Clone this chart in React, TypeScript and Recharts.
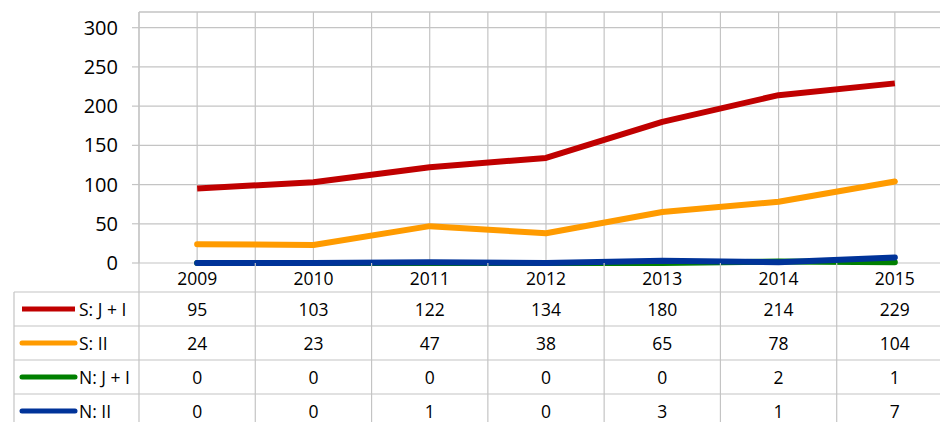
import { LineChart, Line, XAxis, YAxis, CartesianGrid, ReferenceLine } from "recharts";

const years = ["2009", "2010", "2011", "2012", "2013", "2014", "2015"];
const sJI = [95, 103, 122, 134, 180, 214, 229];
const sII = [24, 23, 47, 38, 65, 78, 104];
const nJI = [0, 0, 0, 0, 0, 2, 1];
const nII = [0, 0, 1, 0, 3, 1, 7];
const yTicks = [0, 50, 100, 150, 200, 250, 300];

const SERIES = [
  { key: "sJI", name: "S: J + I", values: sJI, color: "#C00000", cap: "butt" },
  { key: "sII", name: "S: II", values: sII, color: "#FF9B00", cap: "round" },
  { key: "nJI", name: "N: J + I", values: nJI, color: "#008000", cap: "round" },
  { key: "nII", name: "N: II", values: nII, color: "#003399", cap: "round" },
];

const data = years.map((year, i) => {
  const row: Record<string, any> = { idx: i, year };
  SERIES.forEach(s => (row[s.key] = s.values[i]));
  return row;
});

// gridlines at every column edge and every column centre
const xTicks = [...years.flatMap((_, i) => [i - 0.5, i]), years.length - 0.5];

const W = 1000;
const H = 422;
const PLOT_LEFT = 139;
const PLOT_BOTTOM = 263;
const HEADER_H = 29;
const ROW_H = 34;
const TABLE_LEFT = 14;
const GRID = "#c4c4c4";
const FONT = "'Open Sans', sans-serif";

const TableTick = (props: any) => {
  const { x, payload } = props;
  const v = payload.value;
  if (Number.isInteger(v)) {
    return (
      <g>
        <text x={x} y={PLOT_BOTTOM + HEADER_H / 2} textAnchor="middle" dominantBaseline="central"
          fontSize={17.5} fontFamily={FONT} fill="#000">{years[v]}</text>
        {SERIES.map((s, r) => (
          <text key={s.key} x={x} y={PLOT_BOTTOM + HEADER_H + ROW_H * r + ROW_H / 2}
            textAnchor="middle" dominantBaseline="central" fontSize={17.5} fontFamily={FONT} fill="#000">
            {s.values[v]}
          </text>
        ))}
      </g>
    );
  }
  return (
    <g>
      <line x1={x} x2={x} y1={PLOT_BOTTOM} y2={H + 10} stroke={GRID} strokeWidth={1.2} />
      {v === -0.5 && (
        <g>
          <line x1={TABLE_LEFT} x2={TABLE_LEFT} y1={PLOT_BOTTOM + HEADER_H} y2={H + 10} stroke={GRID} strokeWidth={1.2} />
          {SERIES.map((s, r) => {
            const top = PLOT_BOTTOM + HEADER_H + ROW_H * r;
            const cy = top + ROW_H / 2;
            return (
              <g key={s.key}>
                <line x1={TABLE_LEFT} x2={W} y1={top} y2={top} stroke={GRID} strokeWidth={1.2} />
                <line x1={22} x2={75} y1={cy} y2={cy} stroke={s.color} strokeWidth={5} strokeLinecap={s.cap as any} />
                <text x={79} y={cy} dominantBaseline="central" fontSize={17.5} fontFamily={FONT} fill="#000">{s.name}</text>
              </g>
            );
          })}
        </g>
      )}
    </g>
  );
};

export default function App() {
  return (
    <div style={{ position: "fixed", left: 0, top: 0, width: 940, height: 422, overflow: "hidden", background: "#fff" }}>
      <LineChart width={W} height={H} data={data} margin={{ top: 12, right: 47, bottom: 0, left: 0 }}>
        <CartesianGrid stroke={GRID} strokeWidth={1.2} />
        <ReferenceLine y={320} stroke={GRID} strokeWidth={1.2} />
        <XAxis type="number" dataKey="idx" domain={[-0.5, years.length - 0.5]} ticks={xTicks}
          interval={0} axisLine={false} tickLine={false} height={H - PLOT_BOTTOM} tick={<TableTick />} />
        <YAxis type="number" domain={[0, 320]} ticks={yTicks} width={PLOT_LEFT} interval={0}
          axisLine={{ stroke: GRID, strokeWidth: 1.2 }} tickLine={{ stroke: GRID, strokeWidth: 1.2 }}
          tickSize={7} tickMargin={14} tick={{ fontSize: 20, fill: "#000", fontFamily: FONT }} />
        {SERIES.map(s => (
          <Line key={s.key} type="linear" dataKey={s.key} name={s.name} stroke={s.color} strokeWidth={6}
            strokeLinecap={s.cap as any} strokeLinejoin="round" dot={false} activeDot={false}
            isAnimationActive={false} />
        ))}
      </LineChart>
    </div>
  );
}
